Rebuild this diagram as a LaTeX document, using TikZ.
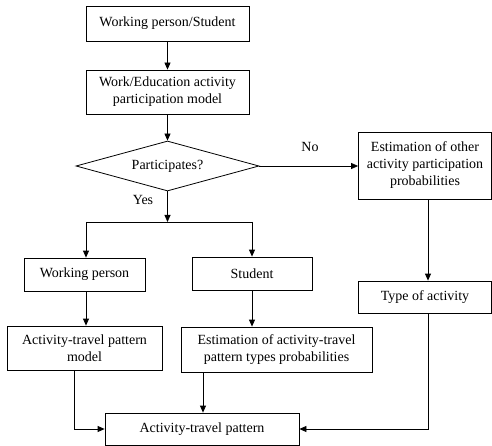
\documentclass[tikz,border=0pt]{standalone}
\usepackage{fontspec}
\setmainfont{Liberation Serif}
\usetikzlibrary{shapes.geometric,arrows.meta}
\begin{document}
\begin{tikzpicture}[x=1pt,y=-1pt,
  every node/.style={font=\fontsize{14}{17}\selectfont},
  box/.style={draw,line width=0.8pt,rectangle,inner sep=0pt,align=center},
  conn/.style={line width=0.8pt,-{Triangle[length=7pt,width=6pt]}},
  plain/.style={line width=0.8pt}]
\useasboundingbox (0,0) rectangle (492,446);
\node[box,minimum width=163,minimum height=35] (ws) at (167.5,23.5) {Working person/Student};
\node[box,minimum width=163,minimum height=44] (wem) at (167.5,92) {Work/Education activity\\participation model};
\node[draw,line width=0.8pt,diamond,inner sep=0pt,minimum width=183,minimum height=50,shape aspect=3.66] (dec) at (167.5,166) {Participates?};
\node[box,minimum width=133,minimum height=67] (eo) at (425,165.5) {Estimation of other\\activity participation\\probabilities};
\node[box,minimum width=133,minimum height=32] (ta) at (425,297) {Type of activity};
\node[box,minimum width=121,minimum height=33] (wp) at (84.5,274.5) {Working person};
\node[box,minimum width=120,minimum height=33] (st) at (252,273.5) {Student};
\node[box,minimum width=155,minimum height=44] (atm) at (84.5,348) {Activity-travel pattern\\model};
\node[box,minimum width=191,minimum height=45] (eat) at (276.5,349.5) {Estimation of activity-travel\\pattern types probabilities};
\node[box,minimum width=194,minimum height=32] (atp) at (202,429) {Activity-travel pattern};
\node (no) at (310,147) {No};
\node (yes) at (143,200) {Yes};
\coordinate (jn) at (167.5,222);
\coordinate (jl) at (86,222);
\coordinate (jr) at (252,222);
\coordinate (xl) at (74,0);
\coordinate (xm) at (203,0);
\coordinate (xr) at (428,0);
\draw[conn] (ws) -- (wem);
\draw[conn] (wem) -- (dec);
\draw[conn] (dec.east) -- (eo.west |- dec.east);
\draw[conn] (dec.south) -- (jn);
\draw[plain] (jl) -- (jr);
\draw[conn] (jl) -- (jl |- wp.north);
\draw[conn] (jr) -- (jr |- st.north);
\draw[conn] (jl |- wp.south) -- (jl |- atm.north);
\draw[conn] (jr |- st.south) -- (jr |- eat.north);
\draw[conn] (xr |- eo.south) -- (xr |- ta.north);
\draw[conn] (xm |- eat.south) -- (xm |- atp.north);
\draw[conn] (xl |- atm.south) |- (atp.west);
\draw[conn] (xr |- ta.south) |- (atp.east);
\end{tikzpicture}
\end{document}
